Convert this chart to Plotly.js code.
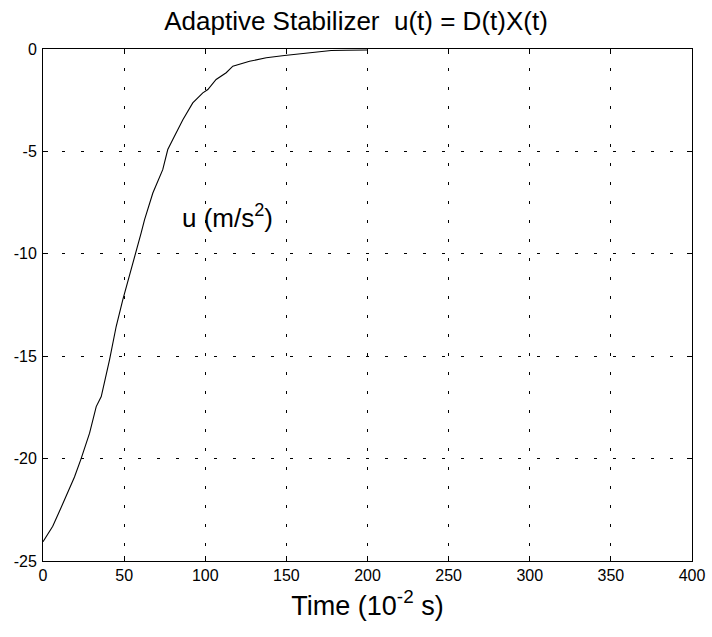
<!DOCTYPE html>
<html><head><meta charset="utf-8">
<script src="https://cdn.plot.ly/plotly-3.0.1.min.js"></script>
<style>body{margin:0;background:#fff}#c{width:712px;height:637px}</style>
</head><body><div id="c"></div>
<script>
const timeVals = [0, 3, 6, 10, 14.3, 19.4, 23.5, 28.7, 32.8, 35.9, 41, 45.1, 49.2, 53.3, 57.4, 60.5, 62.6, 67.7, 73.8, 76.9, 80, 86.2, 92.3, 98.5, 101.6, 104.7, 106.7, 112.9, 117, 127.3, 137.6, 148.8, 164.3, 177.6, 187, 200];
const uVals = [-24.06, -23.7, -23.3, -22.6, -21.86, -20.9, -20.0, -18.76, -17.46, -16.97, -15.18, -13.55, -12.24, -11.1, -9.96, -8.98, -8.33, -7.03, -5.89, -4.91, -4.42, -3.45, -2.63, -2.14, -1.98, -1.65, -1.49, -1.16, -0.84, -0.6, -0.43, -0.32, -0.19, -0.07, -0.06, -0.05];
const xTicks = [0, 50, 100, 150, 200, 250, 300, 350, 400];
const yTicks = [0, -5, -10, -15, -20, -25];

const font = {family: 'Liberation Sans, Arial, sans-serif', color: '#000'};
Plotly.newPlot('c', [{
  x: timeVals, y: uVals, type: 'scatter', mode: 'lines',
  line: {color: '#000', width: 1.1}, hoverinfo: 'skip'
}], {
  width: 712, height: 637,
  margin: {l: 43, r: 20, t: 49, b: 76},
  paper_bgcolor: '#fff', plot_bgcolor: '#fff',
  showlegend: false,
  font: Object.assign({size: 16}, font),
  title: {text: 'Adaptive Stabilizer\u00a0\u00a0u(t) = D(t)X(t)', font: Object.assign({size: 26}, font), x: 0.5, xanchor: 'center', y: 0.967, yanchor: 'middle'},
  xaxis: {
    range: [0, 400], tickvals: xTicks, ticktext: xTicks.map(String),
    ticks: 'inside', ticklen: 5, tickcolor: '#000', mirror: 'ticks',
    showline: true, linecolor: '#000', linewidth: 1,
    showgrid: true, gridcolor: '#000', gridwidth: 1, griddash: '3px,16px',
    zeroline: false, tickfont: Object.assign({size: 16}, font),
    title: {text: 'Time (10<sup>-2</sup> s)', font: Object.assign({size: 27}, font), standoff: 12}
  },
  yaxis: {
    range: [-25, 0], tickvals: yTicks, ticktext: yTicks.map(String),
    ticks: 'inside', ticklen: 5, tickcolor: '#000', mirror: 'ticks',
    showline: true, linecolor: '#000', linewidth: 1,
    showgrid: true, gridcolor: '#000', gridwidth: 1, griddash: '3px,16px',
    zeroline: false, tickfont: Object.assign({size: 16}, font), ticklabelstandoff: 2
  },
  annotations: [{
    x: 114, y: -8.2, xref: 'x', yref: 'y', showarrow: false,
    text: 'u (m/s<sup>2</sup>)', font: Object.assign({size: 26}, font)
  }]
}, {staticPlot: true});
</script></body></html>
